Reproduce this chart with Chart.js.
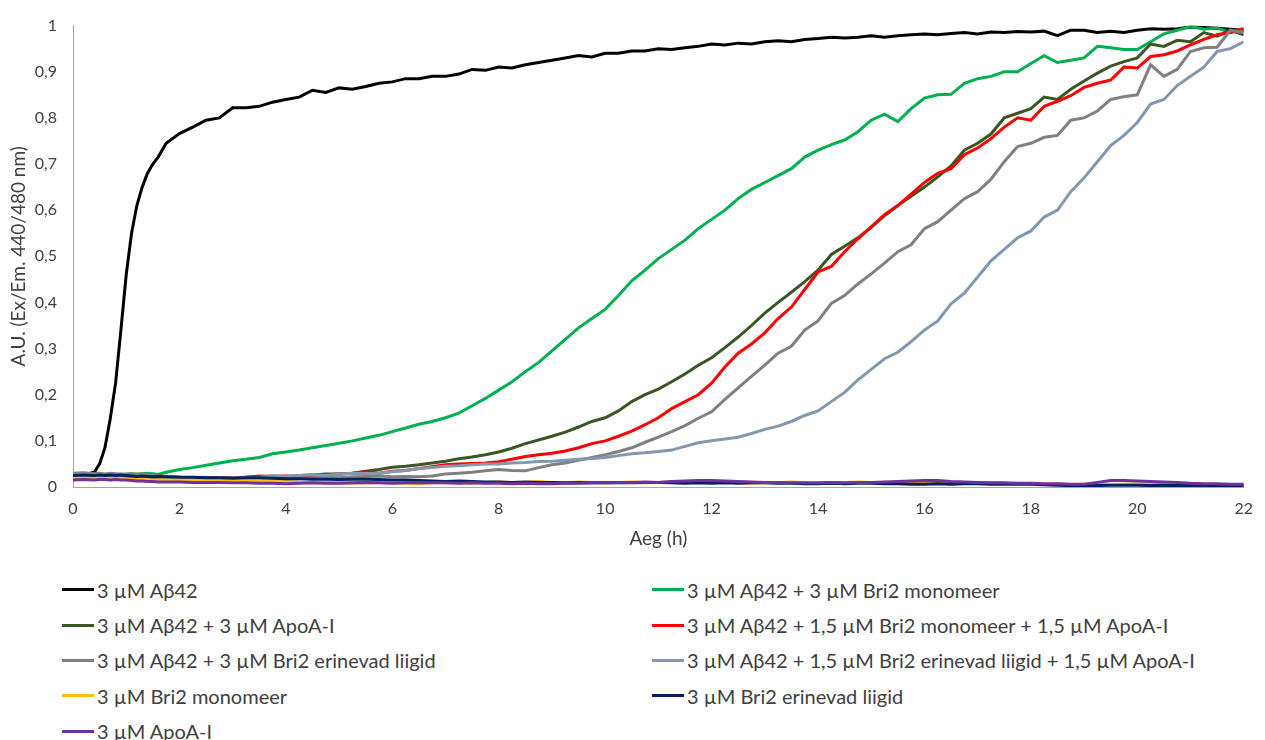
<!DOCTYPE html>
<html>
<head>
<meta charset="utf-8">
<script src="https://cdn.jsdelivr.net/npm/chart.js@4.4.1/dist/chart.umd.min.js"></script>
<style>
  body { margin: 0; background: #fff; font-family: Lato, "Noto Sans", sans-serif; }
  #wrap { position: relative; width: 1265px; height: 740px; }
  #chWrap { position: absolute; left: 0; top: 0; width: 1265px; height: 560px; }
  #legend { position: absolute; left: 62px; top: 572px; width: 1200px;
            display: grid; grid-template-columns: 590px 590px; grid-auto-rows: 35.4px; }
  .item { display: flex; align-items: center; font-size: 20px; color: #404040; white-space: nowrap; }
  .sw { width: 32px; height: 3px; margin-right: 3px; }
</style>
</head>
<body>
<div id="wrap">
  <div id="chWrap"><canvas id="chKinetics"></canvas></div>
  <div id="legend"></div>
</div>
<script>
// time axis (h)
var hours = [0, 0.2, 0.4, 0.5, 0.6, 0.7, 0.8, 0.9, 1, 1.1, 1.2, 1.3, 1.4, 1.5, 1.6, 1.75,
  2, 2.25, 2.5, 2.75, 3, 3.25, 3.5, 3.75,
  4, 4.25, 4.5, 4.75, 5, 5.25, 5.5, 5.75,
  6, 6.25, 6.5, 6.75, 7, 7.25, 7.5, 7.75,
  8, 8.25, 8.5, 8.75, 9, 9.25, 9.5, 9.75,
  10, 10.25, 10.5, 10.75, 11, 11.25, 11.5, 11.75,
  12, 12.25, 12.5, 12.75, 13, 13.25, 13.5, 13.75,
  14, 14.25, 14.5, 14.75, 15, 15.25, 15.5, 15.75,
  16, 16.25, 16.5, 16.75, 17, 17.25, 17.5, 17.75,
  18, 18.25, 18.5, 18.75, 19, 19.25, 19.5, 19.75,
  20, 20.25, 20.5, 20.75, 21, 21.25, 21.5, 21.75,
  22];

var xTicks = [0, 2, 4, 6, 8, 10, 12, 14, 16, 18, 20, 22];
var yTicks = [0, 0.1, 0.2, 0.3, 0.4, 0.5, 0.6, 0.7, 0.8, 0.9, 1];

var seriesNames = [
  "3 µM Aβ42",
  "3 µM Aβ42 + 3 µM Bri2 monomeer",
  "3 µM Aβ42 + 3 µM ApoA-I",
  "3 µM Aβ42 + 1,5 µM Bri2 monomeer + 1,5 µM ApoA-I",
  "3 µM Aβ42 + 3 µM Bri2 erinevad liigid",
  "3 µM Aβ42 + 1,5 µM Bri2 erinevad liigid + 1,5 µM ApoA-I",
  "3 µM Bri2 monomeer",
  "3 µM Bri2 erinevad liigid",
  "3 µM ApoA-I"
];

var abeta = [0.025, 0.026, 0.032, 0.05, 0.085, 0.148, 0.225, 0.34, 0.46, 0.55, 0.61, 0.65, 0.68, 0.7, 0.715, 0.745,
  0.766, 0.78, 0.795, 0.8, 0.822, 0.822, 0.825, 0.834,
  0.84, 0.845, 0.86, 0.855, 0.865, 0.862, 0.868, 0.875,
  0.878, 0.885, 0.885, 0.89, 0.89, 0.895, 0.905, 0.903,
  0.91, 0.908, 0.915, 0.92, 0.925, 0.93, 0.935, 0.932,
  0.94, 0.94, 0.945, 0.945, 0.95, 0.948, 0.952, 0.955,
  0.96, 0.958, 0.962, 0.96, 0.965, 0.967, 0.965, 0.97,
  0.972, 0.975, 0.973, 0.975, 0.978, 0.975, 0.978, 0.98,
  0.982, 0.98, 0.983, 0.985, 0.982, 0.986, 0.985, 0.987,
  0.986, 0.988, 0.978, 0.99, 0.99, 0.985, 0.988, 0.985,
  0.99, 0.993, 0.992, 0.993, 0.997, 0.996, 0.994, 0.992,
  0.99];

var abetaBriMono = [0.025, 0.027, 0.026, 0.028, 0.027, 0.028, 0.027, 0.028, 0.027, 0.028, 0.028, 0.029, 0.03, 0.029, 0.027, 0.032,
  0.038, 0.042, 0.047, 0.052, 0.057, 0.06, 0.064, 0.072,
  0.076, 0.08, 0.085, 0.09, 0.095, 0.1, 0.106, 0.112,
  0.12, 0.128, 0.136, 0.142, 0.15, 0.16, 0.176, 0.192,
  0.21, 0.228, 0.25, 0.27, 0.295, 0.32, 0.345, 0.365,
  0.385, 0.415, 0.447, 0.47, 0.495, 0.515, 0.535, 0.56,
  0.58, 0.6, 0.625, 0.645, 0.66, 0.675, 0.69, 0.715,
  0.73, 0.742, 0.752, 0.77, 0.795, 0.808, 0.792, 0.82,
  0.843, 0.85, 0.851, 0.875, 0.885, 0.89, 0.9, 0.9,
  0.918, 0.935, 0.92, 0.925, 0.93, 0.955, 0.952, 0.948,
  0.948, 0.965, 0.982, 0.99, 0.998, 0.992, 0.995, 0.985,
  0.99];

var abetaApo = [0.025, 0.024, 0.025, 0.024, 0.025, 0.024, 0.023, 0.024, 0.022, 0.023, 0.022, 0.021, 0.022, 0.021, 0.02, 0.021,
  0.02, 0.019, 0.02, 0.019, 0.02, 0.021, 0.022, 0.024,
  0.023, 0.025, 0.026, 0.028, 0.028, 0.03, 0.034, 0.038,
  0.043, 0.045, 0.048, 0.052, 0.056, 0.061, 0.065, 0.07,
  0.076, 0.084, 0.094, 0.102, 0.11, 0.119, 0.13, 0.142,
  0.15, 0.165, 0.185, 0.2, 0.212, 0.228, 0.245, 0.264,
  0.28, 0.302, 0.325, 0.35, 0.377, 0.4, 0.422, 0.445,
  0.47, 0.504, 0.522, 0.54, 0.563, 0.588, 0.61, 0.63,
  0.65, 0.672, 0.696, 0.73, 0.745, 0.765, 0.8, 0.81,
  0.82, 0.845, 0.84, 0.862, 0.88, 0.897, 0.912, 0.922,
  0.93, 0.96, 0.955, 0.968, 0.965, 0.985, 0.977, 0.99,
  0.98];

var abetaMonoApo = [0.02, 0.021, 0.022, 0.021, 0.022, 0.021, 0.022, 0.02, 0.021, 0.022, 0.021, 0.02, 0.021, 0.022, 0.024, 0.023,
  0.021, 0.02, 0.02, 0.019, 0.02, 0.021, 0.024, 0.023,
  0.024, 0.022, 0.025, 0.026, 0.028, 0.03, 0.033, 0.03,
  0.034, 0.036, 0.04, 0.044, 0.048, 0.05, 0.051, 0.052,
  0.055, 0.06, 0.066, 0.07, 0.073, 0.078, 0.085, 0.094,
  0.1, 0.11, 0.121, 0.135, 0.15, 0.17, 0.185, 0.2,
  0.225, 0.26, 0.29, 0.31, 0.334, 0.365, 0.39, 0.428,
  0.466, 0.478, 0.51, 0.538, 0.564, 0.59, 0.61, 0.635,
  0.66, 0.68, 0.69, 0.72, 0.735, 0.755, 0.78, 0.8,
  0.795, 0.825, 0.836, 0.848, 0.866, 0.875, 0.882, 0.91,
  0.908, 0.933, 0.937, 0.945, 0.958, 0.97, 0.98, 0.985,
  0.994];

var abetaBriMix = [0.03, 0.031, 0.029, 0.03, 0.028, 0.03, 0.029, 0.027, 0.028, 0.029, 0.027, 0.028, 0.026, 0.025, 0.024, 0.022,
  0.021, 0.02, 0.02, 0.019, 0.018, 0.019, 0.018, 0.02,
  0.017, 0.018, 0.02, 0.021, 0.02, 0.022, 0.023, 0.024,
  0.022, 0.023, 0.022, 0.024, 0.028, 0.03, 0.032, 0.035,
  0.038, 0.036, 0.035, 0.042, 0.048, 0.052, 0.058, 0.064,
  0.07, 0.077, 0.085, 0.097, 0.108, 0.12, 0.133, 0.149,
  0.163, 0.19, 0.215, 0.24, 0.264, 0.29, 0.305, 0.34,
  0.36, 0.398, 0.415, 0.44, 0.462, 0.485, 0.51, 0.525,
  0.56, 0.575, 0.6, 0.625, 0.64, 0.667, 0.705, 0.738,
  0.745, 0.758, 0.762, 0.795, 0.8, 0.815, 0.84, 0.846,
  0.85, 0.915, 0.89, 0.905, 0.944, 0.952, 0.953, 0.99,
  0.985];

var abetaMixApo = [0.027, 0.028, 0.026, 0.027, 0.025, 0.026, 0.024, 0.02, 0.016, 0.02, 0.022, 0.021, 0.02, 0.021, 0.022, 0.02,
  0.019, 0.02, 0.021, 0.018, 0.02, 0.019, 0.021, 0.024,
  0.022, 0.025, 0.027, 0.025, 0.028, 0.03, 0.029, 0.03,
  0.033, 0.036, 0.04, 0.042, 0.045, 0.046, 0.048, 0.05,
  0.05, 0.052, 0.053, 0.055, 0.056, 0.058, 0.06, 0.062,
  0.064, 0.068, 0.072, 0.074, 0.077, 0.08, 0.088, 0.096,
  0.1, 0.104, 0.108, 0.116, 0.125, 0.132, 0.142, 0.155,
  0.165, 0.185, 0.205, 0.232, 0.255, 0.278, 0.292, 0.315,
  0.34, 0.36, 0.397, 0.42, 0.455, 0.49, 0.515, 0.54,
  0.555, 0.585, 0.6, 0.64, 0.67, 0.705, 0.74, 0.762,
  0.79, 0.83, 0.84, 0.87, 0.89, 0.91, 0.944, 0.95,
  0.965];

var briMono = [0.02, 0.021, 0.02, 0.021, 0.02, 0.021, 0.02, 0.019, 0.018, 0.017, 0.016, 0.017, 0.016, 0.015, 0.016, 0.015,
  0.016, 0.015, 0.014, 0.015, 0.016, 0.015, 0.014, 0.013,
  0.012, 0.01, 0.009, 0.01, 0.009, 0.008, 0.009, 0.01,
  0.009, 0.008, 0.007, 0.009, 0.01, 0.009, 0.008, 0.01,
  0.011, 0.009, 0.01, 0.012, 0.01, 0.009, 0.011, 0.01,
  0.009, 0.01, 0.011, 0.009, 0.01, 0.012, 0.01, 0.009,
  0.01, 0.011, 0.009, 0.008, 0.01, 0.009, 0.011, 0.009,
  0.008, 0.01, 0.009, 0.011, 0.01, 0.008, 0.009, 0.01,
  0.009, 0.011, 0.01, 0.008, 0.009, 0.01, 0.008, 0.007,
  0.008, 0.006, 0.007, 0.005, 0.006, 0.007, 0.005, 0.006,
  0.007, 0.006, 0.005, 0.004, 0.006, 0.005, 0.004, 0.005,
  0.004];

var briMix = [0.025, 0.026, 0.025, 0.026, 0.025, 0.026, 0.025, 0.026, 0.025, 0.024, 0.023, 0.024, 0.023, 0.022, 0.023, 0.022,
  0.021, 0.021, 0.02, 0.02, 0.019, 0.02, 0.02, 0.019,
  0.018, 0.018, 0.017, 0.017, 0.016, 0.017, 0.017, 0.016,
  0.015, 0.015, 0.014, 0.013, 0.012, 0.013, 0.012, 0.011,
  0.011, 0.01, 0.011, 0.01, 0.01, 0.009, 0.01, 0.009,
  0.009, 0.01, 0.009, 0.01, 0.01, 0.009, 0.008, 0.009,
  0.008, 0.009, 0.008, 0.009, 0.009, 0.008, 0.008, 0.007,
  0.007, 0.008, 0.007, 0.008, 0.008, 0.007, 0.007, 0.006,
  0.006, 0.007, 0.006, 0.007, 0.007, 0.006, 0.006, 0.006,
  0.006, 0.005, 0.004, 0.003, 0.002, 0.003, 0.004, 0.004,
  0.004, 0.003, 0.004, 0.003, 0.003, 0.004, 0.003, 0.003,
  0.003];

var apoA = [0.015, 0.016, 0.015, 0.016, 0.016, 0.015, 0.016, 0.015, 0.015, 0.014, 0.013, 0.013, 0.012, 0.012, 0.011, 0.011,
  0.011, 0.01, 0.01, 0.01, 0.009, 0.009, 0.008, 0.008,
  0.007, 0.008, 0.009, 0.008, 0.008, 0.009, 0.01, 0.009,
  0.008, 0.009, 0.01, 0.009, 0.009, 0.008, 0.009, 0.008,
  0.008, 0.007, 0.008, 0.007, 0.007, 0.008, 0.008, 0.009,
  0.009, 0.01, 0.01, 0.011, 0.01, 0.012, 0.013, 0.014,
  0.014, 0.013, 0.012, 0.011, 0.01, 0.01, 0.009, 0.009,
  0.009, 0.01, 0.009, 0.01, 0.01, 0.011, 0.012, 0.013,
  0.014, 0.014, 0.012, 0.011, 0.01, 0.009, 0.009, 0.008,
  0.008, 0.007, 0.007, 0.006, 0.006, 0.01, 0.014, 0.014,
  0.013, 0.012, 0.011, 0.01, 0.008, 0.007, 0.007, 0.006,
  0.006];

var seriesValues = [abeta, abetaBriMono, abetaApo, abetaMonoApo, abetaBriMix, abetaMixApo, briMono, briMix, apoA];
var seriesColors = ["#000000", "#00b050", "#385723", "#ff0000", "#808080", "#8497b0", "#ffc000", "#002060", "#7030a0"];

var textColor = "#404040";
var fontFamily = "Lato, 'Noto Sans', sans-serif";

var datasets = seriesNames.map(function (name, i) {
  return {
    label: name,
    data: hours.map(function (h, j) { return { x: h, y: seriesValues[i][j] }; }),
    borderColor: seriesColors[i],
    backgroundColor: seriesColors[i],
    borderWidth: 3,
    pointRadius: 0,
    tension: 0,
    fill: false,
    order: -i
  };
});

function commaNum(v) {
  return String(Math.round(v * 10) / 10).replace(".", ",");
}

var ch = document.getElementById("chKinetics");
if (ch) {
  new Chart(ch, {
    type: "line",
    data: { datasets: datasets },
    options: {
      responsive: true,
      maintainAspectRatio: false,
      animation: false,
      layout: { padding: { top: 17, right: 19, left: 0, bottom: 0 } },
      plugins: { legend: { display: false }, tooltip: { enabled: false } },
      scales: {
        x: {
          type: "linear",
          min: 0,
          max: 22,
          afterFit: function (s) { s.height = 73; },
          afterBuildTicks: function (s) { s.ticks = xTicks.map(function (v) { return { value: v }; }); },
          grid: { display: false, drawTicks: false },
          border: { display: true, color: "#a6a6a6", width: 1 },
          ticks: { padding: 12, color: textColor, font: { family: fontFamily, size: 16 }, maxRotation: 0 },
          title: { display: true, text: "Aeg (h)", color: textColor,
                   font: { family: fontFamily, size: 19 }, padding: { top: 0, bottom: 10 } }
        },
        y: {
          min: 0,
          max: 1,
          afterFit: function (s) { s.width = 73; },
          afterBuildTicks: function (s) { s.ticks = yTicks.map(function (v) { return { value: v }; }); },
          grid: { display: false, drawTicks: false },
          border: { display: true, color: "#a6a6a6", width: 1 },
          ticks: { padding: 16, color: textColor, font: { family: fontFamily, size: 16 },
                   callback: function (v) { return commaNum(v); } },
          title: { display: true, text: "A.U. (Ex/Em. 440/480 nm)", color: textColor,
                   font: { family: fontFamily, size: 19 }, padding: { top: 7, bottom: 0 } }
        }
      }
    }
  });
}

// legend in two columns, same order as the series
var legend = document.getElementById("legend");
seriesNames.forEach(function (name, i) {
  var item = document.createElement("div");
  item.className = "item";
  var sw = document.createElement("span");
  sw.className = "sw";
  sw.style.background = seriesColors[i];
  var txt = document.createElement("span");
  txt.textContent = name;
  item.appendChild(sw);
  item.appendChild(txt);
  legend.appendChild(item);
});
</script>
</body>
</html>
